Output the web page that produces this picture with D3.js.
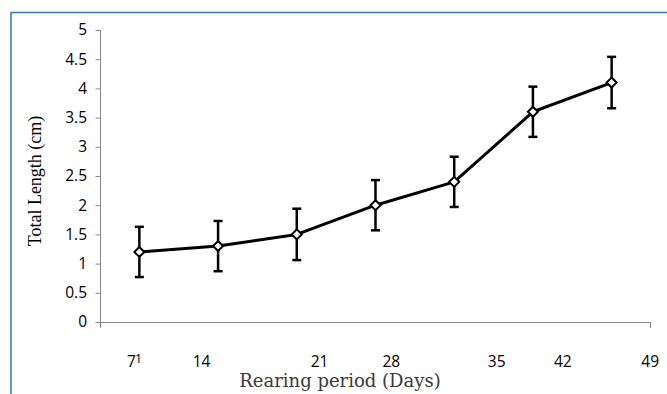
<!DOCTYPE html>
<html>
<head>
<meta charset="utf-8">
<script src="https://cdn.jsdelivr.net/npm/d3@7"></script>
<style>
  body { margin: 0; background: #fff; }
  svg { display: block; }
</style>
</head>
<body>
<div id="chart"></div>
<script>
// rearing categories (weeks) and mean total length with error
var categories = ["w1", "w2", "w3", "w4", "w5", "w6", "w7"];
var lengthCm = [1.2, 1.3, 1.5, 2.0, 2.4, 3.6, 4.1];
var errorCm = [0.43, 0.43, 0.44, 0.43, 0.43, 0.43, 0.44];
var yTicks = [0, 0.5, 1, 1.5, 2, 2.5, 3, 3.5, 4, 4.5, 5];
// day labels sit as loose text boxes under the axis, offset in category units
var dayLabels = ["7", "14", "21", "28", "35", "42", "49"];
var dayLabelPos = [-0.06, 0.79, 2.29, 3.2, 4.54, 5.38, 6.49];

var W = 667, H = 394;
var margin = { top: 30, right: 16, bottom: 72, left: 100 },
  width = 651 - margin.left,
  height = 322 - margin.top;

var svg = d3.select("#chart").append("svg")
  .attr("width", W)
  .attr("height", H);

// blue frame of the figure box
svg.append("line").attr("x1", 11).attr("x2", W).attr("y1", 12.5).attr("y2", 12.5)
  .style("stroke", "#2f78c4").style("stroke-width", 1.5);
svg.append("line").attr("x1", 11).attr("x2", 11).attr("y1", 12).attr("y2", H)
  .style("stroke", "#2f78c4").style("stroke-width", 1.5);

var g = svg.append("g")
  .attr("transform", "translate(" + margin.left + "," + margin.top + ")");

var x = d3.scaleBand().domain(categories).range([0, width]);
var xc = function (i) { return x(categories[0]) + x.bandwidth() * (i + 0.5); };
var y = d3.scaleLinear().domain([0, 5]).range([height, 0]);

var tickFont = "'Open Sans', 'Liberation Sans', sans-serif";

// Y axis
var yAxis = g.append("g")
  .call(d3.axisLeft(y).tickValues(yTicks).tickSize(5).tickPadding(8)
    .tickFormat(function (d) { return d; }));
yAxis.select(".domain").remove();
yAxis.append("line").attr("x1", 0.5).attr("x2", 0.5).attr("y1", y(5)).attr("y2", height + 6)
  .style("stroke", "#898989");
yAxis.selectAll(".tick line").style("stroke", "#898989").attr("transform", "translate(0.5,0)");
yAxis.selectAll("text")
  .style("font-family", tickFont)
  .style("font-size", "15.5px")
  .style("fill", "#000");

// X axis line with end ticks only
g.append("line").attr("x1", -4).attr("x2", width).attr("y1", height + 0.5).attr("y2", height + 0.5)
  .style("stroke", "#898989");
g.append("line").attr("x1", width - 0.5).attr("x2", width - 0.5).attr("y1", height).attr("y2", height + 6)
  .style("stroke", "#898989");

// day labels
var lbl = g.selectAll(".daylbl")
  .data(dayLabels)
  .enter().append("text")
  .attr("class", "daylbl")
  .attr("x", function (d, i) { return xc(dayLabelPos[i]); })
  .attr("y", height + 45)
  .attr("text-anchor", "middle")
  .style("font-family", tickFont)
  .style("font-size", "15.5px")
  .style("fill", "#000")
  .text(function (d) { return d; });
lbl.filter(function (d, i) { return i === 0; })
  .append("tspan").attr("dx", -1).attr("dy", -4).style("font-size", "13px").text("1");

// error bars
var eb = g.selectAll(".err")
  .data(lengthCm)
  .enter().append("g").attr("class", "err");
eb.append("line")
  .attr("x1", function (d, i) { return xc(i); })
  .attr("x2", function (d, i) { return xc(i); })
  .attr("y1", function (d, i) { return y(d + errorCm[i]); })
  .attr("y2", function (d, i) { return y(d - errorCm[i]); })
  .style("stroke", "#000").style("stroke-width", 2.5);
[1, -1].forEach(function (s) {
  eb.append("line")
    .attr("x1", function (d, i) { return xc(i) - 4.5; })
    .attr("x2", function (d, i) { return xc(i) + 4.5; })
    .attr("y1", function (d, i) { return y(d + s * errorCm[i]); })
    .attr("y2", function (d, i) { return y(d + s * errorCm[i]); })
    .style("stroke", "#000").style("stroke-width", 2.5);
});

// main line
var line = d3.line()
  .x(function (d, i) { return xc(i); })
  .y(function (d) { return y(d); });
g.append("path")
  .datum(lengthCm)
  .attr("d", line)
  .style("fill", "none")
  .style("stroke", "#000")
  .style("stroke-width", 3)
  .style("stroke-linejoin", "round");

// diamond markers
g.selectAll(".mk")
  .data(lengthCm)
  .enter().append("path")
  .attr("class", "mk")
  .attr("transform", function (d, i) { return "translate(" + xc(i) + "," + y(d) + ")"; })
  .attr("d", "M0,-5L5,0L0,5L-5,0Z")
  .style("fill", "#fff")
  .style("stroke", "#000")
  .style("stroke-width", 2);

// axis titles
svg.append("text")
  .attr("x", 340)
  .attr("y", 387)
  .attr("text-anchor", "middle")
  .style("font-family", "'DejaVu Serif', serif")
  .style("font-size", "18px")
  .style("fill", "#3a3a3a")
  .text("Rearing period (Days)");

svg.append("text")
  .attr("transform", "translate(41,181) rotate(-90)")
  .attr("text-anchor", "middle")
  .style("font-family", "'Liberation Serif', serif")
  .style("font-size", "18px")
  .style("fill", "#000")
  .text("Total Length (cm)");
</script>
</body>
</html>
